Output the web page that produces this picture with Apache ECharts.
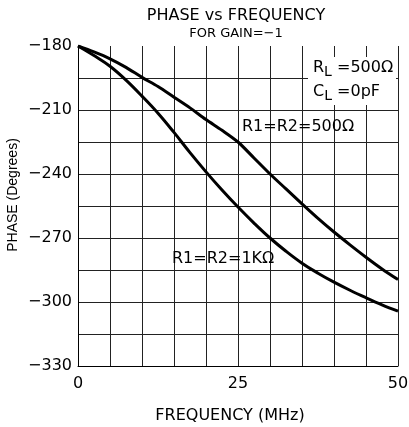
<!DOCTYPE html>
<html><head><meta charset="utf-8">
<script src="https://cdn.jsdelivr.net/npm/echarts@6/dist/echarts.min.js"></script>
<style>html,body{margin:0;padding:0;background:#fff}#c{width:409px;height:427px}</style>
</head><body><div id="c"></div>
<script>
var freq = [0,2.5,5,7.5,10,12.5,15,17.5,20,22.5,25,27.5,30,32.5,35,37.5,40,42.5,45,47.5,50];
var phase500 = [-180,-182.8,-186,-190,-194.7,-199,-204,-209,-214.5,-219.5,-225,-232.5,-240,-247,-254,-260.8,-267.2,-273.2,-279,-284.5,-289.5];
var phase1k = [-180,-184.5,-189.5,-196,-203.5,-211.5,-220.5,-230,-239,-247.5,-255.5,-263,-270,-276.2,-281.8,-286.5,-290.7,-294.5,-298,-301.3,-304.3];
var xTickLabels = [0,25,50];
var yTickLabels = [-180,-210,-240,-270,-300,-330];
var FONT = 'DejaVu Sans';
function pairs(xs, ys){ return xs.map(function(x,i){return [x, ys[i]];}); }
var chart = echarts.init(document.getElementById('c'));
chart.setOption({
  animation:false,
  backgroundColor:'#fff',
  title:{
    text:'PHASE vs FREQUENCY', subtext:'FOR GAIN=\u22121',
    left:231, textAlign:'center', top:3, itemGap:3,
    textStyle:{fontFamily:FONT,fontSize:16,fontWeight:'normal',color:'#000'},
    subtextStyle:{fontFamily:FONT,fontSize:13,color:'#000'}
  },
  grid:{left:78,right:11,top:46,bottom:61,containLabel:false,outerBoundsMode:'none'},
  xAxis:{
    type:'value',min:0,max:50,interval:5,
    name:'FREQUENCY (MHz)',nameLocation:'middle',nameGap:42,nameMoveOverlap:false,
    nameTextStyle:{fontFamily:FONT,fontSize:16,color:'#000',padding:[0,16,0,0]},
    axisLine:{show:true,lineStyle:{color:'#000',width:1}},
    axisTick:{show:false},
    axisLabel:{fontFamily:FONT,fontSize:16,color:'#000',margin:10,
      formatter:function(v){return xTickLabels.indexOf(v)>=0?String(v):'';}},
    splitLine:{show:true,lineStyle:{color:'#222',width:1}}
  },
  yAxis:{
    type:'value',min:-330,max:-180,interval:15,
    name:'PHASE (Degrees)',nameLocation:'middle',nameGap:58,nameMoveOverlap:false,
    nameTextStyle:{fontFamily:'Liberation Sans',fontSize:14,color:'#000',padding:[0,0,0,22]},
    axisLine:{show:true,lineStyle:{color:'#000',width:1}},
    axisTick:{show:false},
    axisLabel:{fontFamily:FONT,fontSize:16,color:'#000',margin:6,
      formatter:function(v){return yTickLabels.indexOf(v)>=0?String(v).replace('-','\u2212'):'';}},
    splitLine:{show:true,lineStyle:{color:['#222','#222','#222','#222','#222','#222','#222','#222','#222','#222','rgba(0,0,0,0)'],width:1}}
  },
  graphic:[
    {type:'rect',left:308,top:57,shape:{width:88,height:48},style:{fill:'#fff'},z:50},
    {type:'text',left:313,top:60,z:51,style:{rich:{a:{fontFamily:FONT,fontSize:16,color:'#000'},s:{fontFamily:FONT,fontSize:14,color:'#000',verticalAlign:'bottom',padding:[8,0,0,0]}},text:'{a|R}{s|L}{a| =500\u03A9}'}},
    {type:'text',left:313,top:84,z:51,style:{rich:{a:{fontFamily:FONT,fontSize:16,color:'#000'},s:{fontFamily:FONT,fontSize:14,color:'#000',verticalAlign:'bottom',padding:[8,0,0,0]}},text:'{a|C}{s|L}{a| =0pF}'}},
    {type:'text',left:242,top:119,z:51,style:{text:'R1=R2=500\u03A9',fontFamily:FONT,fontSize:16,fill:'#000'}},
    {type:'text',left:172,top:251,z:51,style:{text:'R1=R2=1K\u03A9',fontFamily:FONT,fontSize:16,fill:'#000'}}
  ],
  series:[
    {type:'line',data:pairs(freq,phase500),smooth:0.3,showSymbol:false,lineStyle:{color:'#000',width:3},z:10},
    {type:'line',data:pairs(freq,phase1k),smooth:0.4,showSymbol:false,lineStyle:{color:'#000',width:3},z:10}
  ]
});
</script></body></html>
